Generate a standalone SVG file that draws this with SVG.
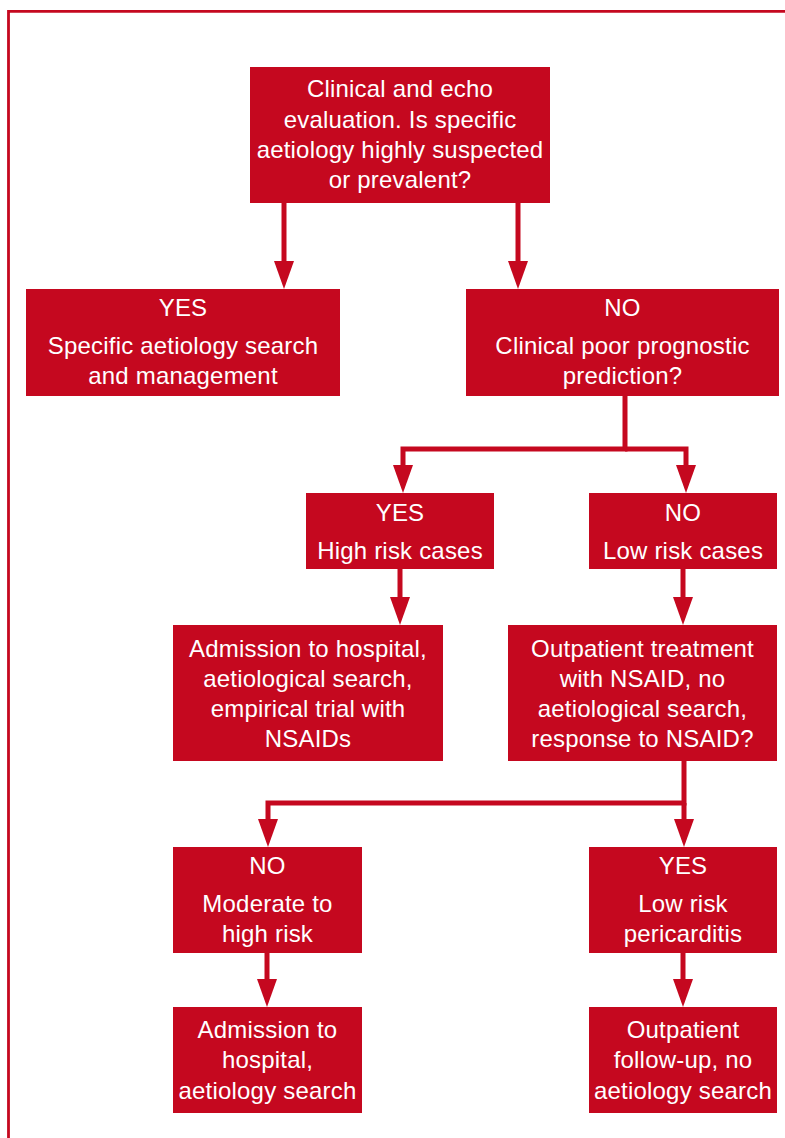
<svg xmlns="http://www.w3.org/2000/svg" width="785" height="1138" viewBox="0 0 785 1138">
<style>
.box{fill:#c5081f}
.t{font-family:"Liberation Sans",Arial,sans-serif;font-size:24px;fill:#ffffff;text-anchor:middle;letter-spacing:0.2px}
.c{fill:none;stroke:#c5081f;stroke-width:5;marker-end:url(#ah)}
.c2{fill:none;stroke:#c5081f;stroke-width:5}
</style>
<defs>
<marker id="ah" markerUnits="userSpaceOnUse" markerWidth="30" markerHeight="22" refX="0" refY="11" orient="auto" viewBox="0 0 30 22">
<path d="M0,1 L28,11 L0,21 z" fill="#c5081f"/>
</marker>
</defs>
<rect width="785" height="1138" fill="#ffffff"/>
<path d="M8.5,1138 V11.3 H785" fill="none" stroke="#c5081f" stroke-width="2.8"/>
<g id="connectors">
<path class="c" d="M284,203 V261"/>
<path class="c" d="M518,203 V261"/>
<path class="c" d="M625,396 V449 H403 V465"/>
<path class="c" d="M625,449 H686 V465"/>
<path class="c" d="M400,569 V597"/>
<path class="c" d="M683,569 V597"/>
<path class="c" d="M684,761 V803 H268 V819"/>
<path class="c" d="M684,803 V819"/>
<path class="c" d="M267,953 V979"/>
<path class="c" d="M683,953 V979"/>
</g>
<g id="n1">
<rect class="box" x="250" y="67" width="300" height="136"/>
<text class="t" x="400" y="97">Clinical and echo</text>
<text class="t" x="400" y="127.5">evaluation. Is specific</text>
<text class="t" x="400" y="158">aetiology highly suspected</text>
<text class="t" x="400" y="188">or prevalent?</text>
</g>
<g id="n2">
<rect class="box" x="26" y="289" width="314" height="107"/>
<text class="t" x="183" y="316">YES</text>
<text class="t" x="183" y="354">Specific aetiology search</text>
<text class="t" x="183" y="384">and management</text>
</g>
<g id="n3">
<rect class="box" x="466" y="289" width="313" height="107"/>
<text class="t" x="622.5" y="316">NO</text>
<text class="t" x="622.5" y="354">Clinical poor prognostic</text>
<text class="t" x="622.5" y="384">prediction?</text>
</g>
<g id="n4">
<rect class="box" x="306" y="493" width="188" height="76"/>
<text class="t" x="400" y="521">YES</text>
<text class="t" x="400" y="559">High risk cases</text>
</g>
<g id="n5">
<rect class="box" x="589" y="493" width="188" height="76"/>
<text class="t" x="683" y="521">NO</text>
<text class="t" x="683" y="559">Low risk cases</text>
</g>
<g id="n6">
<rect class="box" x="173" y="625" width="270" height="136"/>
<text class="t" x="308" y="657">Admission to hospital,</text>
<text class="t" x="308" y="687">aetiological search,</text>
<text class="t" x="308" y="717">empirical trial with</text>
<text class="t" x="308" y="747">NSAIDs</text>
</g>
<g id="n7">
<rect class="box" x="508" y="625" width="269" height="136"/>
<text class="t" x="642.5" y="657">Outpatient treatment</text>
<text class="t" x="642.5" y="687">with NSAID, no</text>
<text class="t" x="642.5" y="717">aetiological search,</text>
<text class="t" x="642.5" y="747">response to NSAID?</text>
</g>
<g id="n8">
<rect class="box" x="173" y="847" width="189" height="106"/>
<text class="t" x="267.5" y="874">NO</text>
<text class="t" x="267.5" y="912">Moderate to</text>
<text class="t" x="267.5" y="942">high risk</text>
</g>
<g id="n9">
<rect class="box" x="589" y="847" width="188" height="106"/>
<text class="t" x="683" y="874">YES</text>
<text class="t" x="683" y="912">Low risk</text>
<text class="t" x="683" y="942">pericarditis</text>
</g>
<g id="n10">
<rect class="box" x="173" y="1007" width="189" height="106"/>
<text class="t" x="267.5" y="1038">Admission to</text>
<text class="t" x="267.5" y="1068">hospital,</text>
<text class="t" x="267.5" y="1099">aetiology search</text>
</g>
<g id="n11">
<rect class="box" x="589" y="1007" width="188" height="106"/>
<text class="t" x="683" y="1038">Outpatient</text>
<text class="t" x="683" y="1068">follow-up, no</text>
<text class="t" x="683" y="1099">aetiology search</text>
</g>
</svg>
